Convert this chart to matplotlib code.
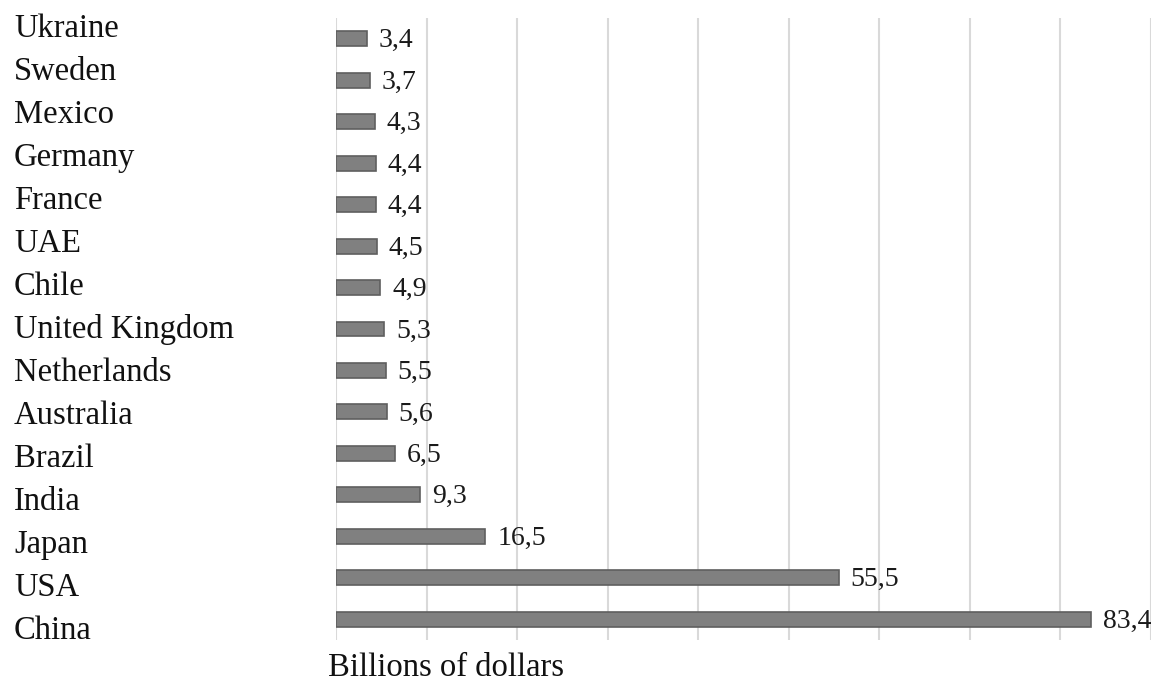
import matplotlib
matplotlib.use("Agg")
import matplotlib.pyplot as plt

countries = ["Ukraine", "Sweden", "Mexico", "Germany", "France", "UAE", "Chile",
             "United Kingdom", "Netherlands", "Australia", "Brazil", "India",
             "Japan", "USA", "China"]
values = [3.4, 3.7, 4.3, 4.4, 4.4, 4.5, 4.9, 5.3, 5.5, 5.6, 6.5, 9.3, 16.5, 55.5, 83.4]
value_labels = ["3,4", "3,7", "4,3", "4,4", "4,4", "4,5", "4,9", "5,3", "5,5", "5,6",
                "6,5", "9,3", "16,5", "55,5", "83,4"]
x_ticks = list(range(0, 91, 10))
xlabel = "Billions of dollars"

plt.rcParams['font.family'] = ['Liberation Serif', 'DejaVu Serif']

W, H = 1161, 684
fig = plt.figure(figsize=(W / 100, H / 100), dpi=100)
ax_left, ax_right, ax_top, ax_bottom = 336, 1151, 18, 640
ax = fig.add_axes([ax_left / W, 1 - ax_bottom / H, (ax_right - ax_left) / W, (ax_bottom - ax_top) / H])

ypos = list(range(len(countries)))
ax.barh(ypos, values, height=0.36, color="#808080", edgecolor="#5f5f5f", linewidth=1.2, zorder=3)
ax.set_ylim(len(countries) - 0.5, -0.5)
ax.set_xlim(0, 90)
ax.set_xticks(x_ticks)
ax.set_xticklabels([])
ax.set_yticks([])
ax.tick_params(axis='x', length=0)
ax.grid(axis='x', color="#d9d9d9", linewidth=1.5, zorder=0)
for s in ax.spines.values():
    s.set_visible(False)

for y, v, lab in zip(ypos, values, value_labels):
    ax.annotate(lab, (v, y), xytext=(12, -2), textcoords="offset pixels",
                va="center", ha="left", fontsize=20, color="#1a1a1a", zorder=4)

# country labels in a left column
for i, c in enumerate(countries):
    baseline = 37 + 43 * i
    fig.text(14 / W, 1 - baseline / H, c, ha="left", va="baseline", fontsize=23.5, color="#111111")

fig.text(328 / W, 1 - 676 / H, xlabel, ha="left", va="baseline", fontsize=23.5, color="#111111")

fig.savefig("out.png", dpi=100)
